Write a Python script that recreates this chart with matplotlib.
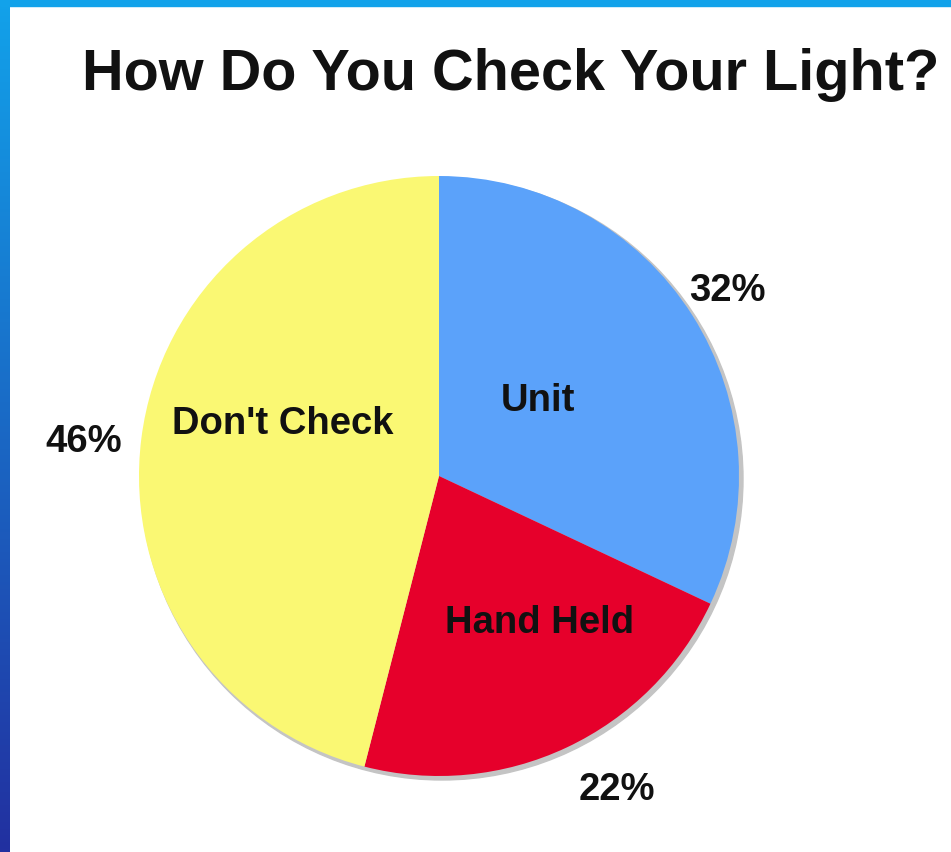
import numpy as np
import matplotlib.pyplot as plt
from matplotlib.patches import Circle
from matplotlib.colors import LinearSegmentedColormap

# data
labels = ["Unit", "Hand Held", "Don't Check"]
values = [32, 22, 46]
colors = ["#5ba2fa", "#e6002b", "#faf873"]

# label / percentage positions in pixels (x, y from top)
label_pos = [(538, 401), (540, 623), (283, 424)]
pct_pos = [(727, 291), (617, 790), (84, 442)]

W, H = 951, 853
fig = plt.figure(figsize=(W / 100, H / 100), dpi=100)
fig.patch.set_facecolor("white")

ax = fig.add_axes([0, 0, 1, 1])

cx, cy, r = 439, H - 477, 300

# soft shadow
ax.add_patch(Circle((cx + 3, cy - 3), r + 1, color="#c4c4c4", zorder=1))

ax.pie(values, colors=colors, startangle=90, counterclock=False,
       center=(cx, cy), radius=r, frame=True,
       wedgeprops=dict(linewidth=0, zorder=2))
ax.set_xlim(0, W)
ax.set_ylim(0, H)
ax.set_aspect("equal")
ax.axis("off")

# blue frame strips (top and left)
grad = np.linspace(0, 1, 256).reshape(-1, 1)
cm = LinearSegmentedColormap.from_list("frame", ["#2230a0", "#12a2ea"])
ax.imshow(grad, cmap=cm, extent=(0, 10, 0, H), aspect="auto", origin="lower", zorder=5)
ax.add_patch(plt.Rectangle((0, H - 7), W, 7, color="#12a2ea", zorder=5))
ax.set_xlim(0, W)
ax.set_ylim(0, H)

fam = ["Liberation Sans", "DejaVu Sans"]
ax.text(511, H - 75, "How Do You Check Your Light?", ha="center", va="center",
        fontsize=41.5, fontweight="bold", family=fam, color="#111111")

for lab, (px, py) in zip(labels, label_pos):
    ax.text(px, H - py, lab, ha="center", va="center", fontsize=27.5,
            fontweight="bold", family=fam, color="#111111", zorder=4)
for v, (px, py) in zip(values, pct_pos):
    ax.text(px, H - py, f"{v}%", ha="center", va="center", fontsize=27.5,
            fontweight="bold", family=fam, color="#111111", zorder=4)

fig.savefig("out.png", dpi=100)
